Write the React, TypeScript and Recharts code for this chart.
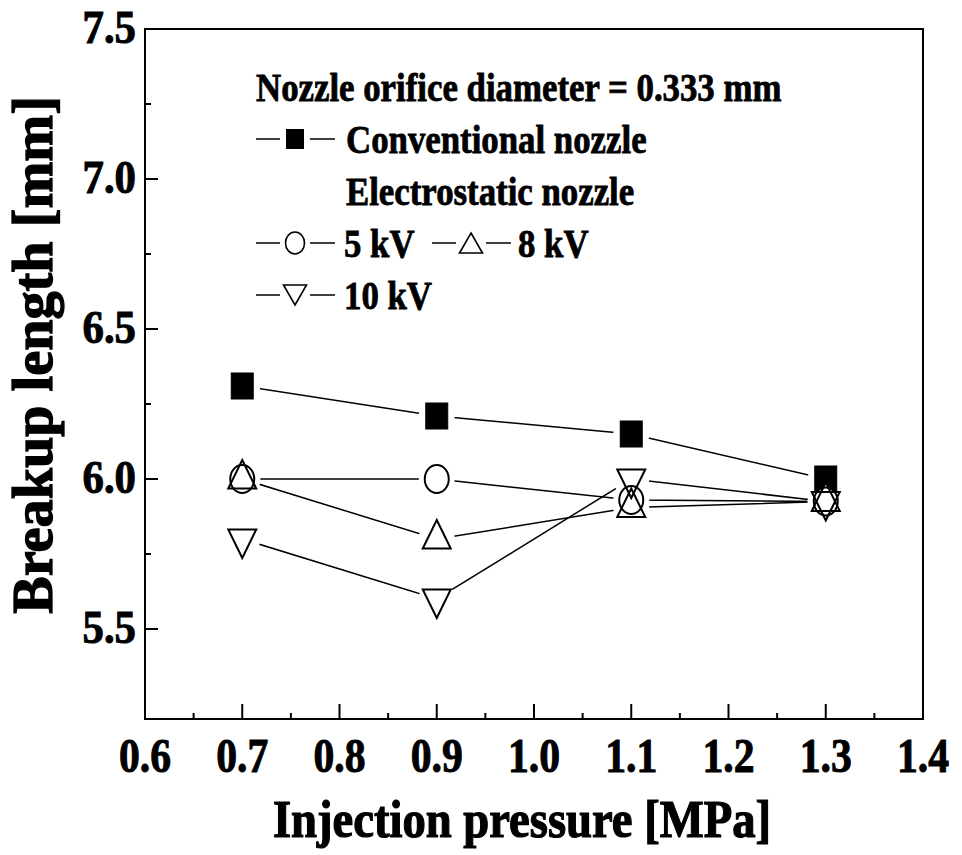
import React from 'react';
import { ComposedChart, Line, XAxis, YAxis, ReferenceArea } from 'recharts';

const pressures = [0.7, 0.9, 1.1, 1.3];
const conventional = [6.31, 6.21, 6.15, 6.0];
const kv5 = [6.0, 6.0, 5.93, 5.925];
const kv8 = [6.0, 5.8, 5.905, 5.925];
const kv10 = [5.8, 5.6, 6.0, 5.925];

const xMajorTicks = [0.6, 0.7, 0.8, 0.9, 1.0, 1.1, 1.2, 1.3, 1.4];
const xMinorTicks = [0.65, 0.75, 0.85, 0.95, 1.05, 1.15, 1.25, 1.35];
const yMajorTicks = [5.5, 6.0, 6.5, 7.0, 7.5];
const yMinorTicks = [5.75, 6.25, 6.75, 7.25];

const legendTitle = 'Nozzle orifice diameter = 0.333 mm';
const legendLabels = ['Conventional nozzle', 'Electrostatic nozzle', '5 kV', '8 kV', '10 kV'];

const xTitle = 'Injection pressure [MPa]';
const yTitle = 'Breakup length [mm]';

const FONT = '"Liberation Serif", "Times New Roman", serif';

type Kind = 'square' | 'circle' | 'up' | 'down';

const toPoints = (vals: number[]) => pressures.map((x, i) => ({ x, y: vals[i] }));

const seriesList: { name: string; kind: Kind; data: { x: number; y: number }[] }[] = [
  { name: 'conv', kind: 'square', data: toPoints(conventional) },
  { name: 'kv5', kind: 'circle', data: toPoints(kv5) },
  { name: 'kv8', kind: 'up', data: toPoints(kv8) },
  { name: 'kv10', kind: 'down', data: toPoints(kv10) },
];

const isIn = (arr: number[], v: number) => arr.some((a) => Math.abs(a - v) < 1e-6);

function SText({ x, y, sx = 0.87, size = 40, anchor = 'start', rotate = 0, weight = 0.8, spacing = 0, children }: any) {
  const t = `translate(${x},${y})${rotate ? ` rotate(${rotate})` : ''} scale(${sx},1)`;
  return (
    <text
      transform={t}
      x={0}
      y={0}
      textAnchor={anchor}
      fontFamily={FONT}
      fontWeight="bold"
      fontSize={size}
      fill="#000"
      stroke="#000"
      strokeWidth={weight}
      letterSpacing={spacing}
    >
      {children}
    </text>
  );
}

function Shape({ kind, cx, cy, mode, small }: { kind: Kind; cx: number; cy: number; mode: string; small?: boolean }) {
  if (mode === 'mask') {
    return small ? (
      <rect x={cx - 15} y={cy - 14} width={30} height={28} fill="#fff" />
    ) : (
      <ellipse cx={cx} cy={cy} rx={18} ry={19} fill="#fff" />
    );
  }
  let fill = 'none';
  let stroke = '#000';
  if (mode === 'solid') fill = '#000';
  if (mode === 'fill') {
    fill = '#fff';
    stroke = 'none';
  }
  const sw = small ? 1.6 : 2;
  if (kind === 'square') {
    const w = small ? 17 : 22;
    const h = small ? 19 : 26;
    return <rect x={cx - w / 2} y={cy - h / 2} width={w} height={h} fill={fill} stroke={stroke} strokeWidth={1} />;
  }
  if (kind === 'circle') {
    const rx = small ? 9.5 : 12;
    const ry = small ? 11 : 14;
    return <ellipse cx={cx} cy={cy} rx={rx} ry={ry} fill={fill} stroke={stroke} strokeWidth={sw} />;
  }
  const hw = small ? 11.5 : 14;
  const h = small ? 20 : 28.5;
  const topOff = small ? h / 2 : (2 * h) / 3;
  const botOff = small ? h / 2 : h / 3;
  let pts: string;
  if (kind === 'up') {
    pts = `${cx},${cy - topOff} ${cx + hw},${cy + botOff} ${cx - hw},${cy + botOff}`;
  } else {
    pts = `${cx},${cy + topOff} ${cx + hw},${cy - botOff} ${cx - hw},${cy - botOff}`;
  }
  return <polygon points={pts} fill={fill} stroke={stroke} strokeWidth={sw} strokeLinejoin="miter" />;
}

const makeDot = (kind: Kind, mode: string) => (props: any) => {
  const { cx, cy, index } = props;
  if (cx == null || cy == null) return <g key={`${kind}-${mode}-${index}`} />;
  return <Shape key={`${kind}-${mode}-${index}`} kind={kind} mode={mode} cx={cx} cy={cy} />;
};

function XTick(props: any) {
  const { x, y, payload } = props;
  const v = payload.value;
  const major = isIn(xMajorTicks, v);
  return (
    <g>
      <line x1={x} y1={y} x2={x} y2={y - (major ? 15 : 6)} stroke="#000" strokeWidth={2} />
      {major && (
        <SText x={x} y={y + 53} size={49} sx={0.85} anchor="middle" weight={1}>
          {v.toFixed(1)}
        </SText>
      )}
    </g>
  );
}

function YTick(props: any) {
  const { x, y, payload } = props;
  const v = payload.value;
  const major = isIn(yMajorTicks, v);
  return (
    <g>
      <line x1={x} y1={y} x2={x + (major ? 13 : 6)} y2={y} stroke="#000" strokeWidth={2} />
      {major && (
        <SText x={x - 9} y={y + 14} size={46} sx={0.93} anchor="end" weight={1}>
          {v.toFixed(1)}
        </SText>
      )}
    </g>
  );
}

function LegendSym({ kind, x, y }: { kind: Kind; x: number; y: number }) {
  const cx = x + 39;
  return (
    <g>
      <line x1={x} y1={y} x2={x + 79} y2={y} stroke="#000" strokeWidth={1.3} />
      <Shape kind={kind} cx={cx} cy={y} mode="mask" small />
      <Shape kind={kind} cx={cx} cy={y} mode={kind === 'square' ? 'solid' : 'outline'} small />
    </g>
  );
}

export default function App() {
  const xTicks = [...xMajorTicks, ...xMinorTicks].sort((a, b) => a - b);
  const yTicks = [...yMajorTicks, ...yMinorTicks].sort((a, b) => a - b);
  const hollow = seriesList.filter((s) => s.kind !== 'square');
  const conv = seriesList[0];
  return (
    <div style={{ position: 'absolute', left: 0, top: 0, width: 962, height: 855, background: '#fff' }}>
      <ComposedChart width={962} height={855} margin={{ top: 29, right: 39, bottom: 0, left: 0 }}>
        <XAxis
          type="number"
          dataKey="x"
          domain={[0.6, 1.4]}
          ticks={xTicks}
          interval={0}
          height={136}
          tickSize={0}
          tickMargin={0}
          tickLine={false}
          axisLine={{ stroke: '#000', strokeWidth: 2 }}
          tick={<XTick />}
          allowDataOverflow
        />
        <YAxis
          type="number"
          domain={[5.2, 7.5]}
          ticks={yTicks}
          interval={0}
          width={145}
          tickSize={0}
          tickMargin={0}
          tickLine={false}
          axisLine={{ stroke: '#000', strokeWidth: 2 }}
          tick={<YTick />}
          allowDataOverflow
        />
        <ReferenceArea x1={0.6} x2={1.4} y1={5.2} y2={7.5} fill="none" stroke="#000" strokeWidth={2} fillOpacity={0} />
        {seriesList.map((s) => (
          <Line
            key={`line-${s.name}`}
            data={s.data}
            dataKey="y"
            type="linear"
            stroke="#000"
            strokeWidth={1.5}
            dot={false}
            activeDot={false}
            isAnimationActive={false}
            legendType="none"
          />
        ))}
        {seriesList.map((s) => (
          <Line
            key={`mask-${s.name}`}
            data={s.data}
            dataKey="y"
            stroke="none"
            dot={makeDot(s.kind, 'mask')}
            activeDot={false}
            isAnimationActive={false}
            legendType="none"
          />
        ))}
        <Line
          key="solid-conv"
          data={conv.data}
          dataKey="y"
          stroke="none"
          dot={makeDot(conv.kind, 'solid')}
          activeDot={false}
          isAnimationActive={false}
          legendType="none"
        />
        {hollow.map((s) => (
          <Line
            key={`fill-${s.name}`}
            data={s.data}
            dataKey="y"
            stroke="none"
            dot={makeDot(s.kind, 'fill')}
            activeDot={false}
            isAnimationActive={false}
            legendType="none"
          />
        ))}
        {hollow.map((s) => (
          <Line
            key={`outline-${s.name}`}
            data={s.data}
            dataKey="y"
            stroke="none"
            dot={makeDot(s.kind, 'outline')}
            activeDot={false}
            isAnimationActive={false}
            legendType="none"
          />
        ))}
      </ComposedChart>
      <svg width={962} height={855} style={{ position: 'absolute', left: 0, top: 0, pointerEvents: 'none' }}>
        <SText x={522} y={837} size={53} sx={0.88} anchor="middle" weight={1.2}>
          {xTitle}
        </SText>
        <SText x={52} y={355} size={58} sx={0.97} anchor="middle" rotate={-90} weight={1.3}>
          {yTitle}
        </SText>
        <SText x={256} y={101}>{legendTitle}</SText>
        <LegendSym kind="square" x={256} y={139} />
        <SText x={346} y={153}>{legendLabels[0]}</SText>
        <SText x={346} y={205}>{legendLabels[1]}</SText>
        <LegendSym kind="circle" x={256} y={243} />
        <SText x={344} y={257}>{legendLabels[2]}</SText>
        <LegendSym kind="up" x={432} y={243} />
        <SText x={518} y={257}>{legendLabels[3]}</SText>
        <LegendSym kind="down" x={256} y={295} />
        <SText x={344} y={309}>{legendLabels[4]}</SText>
      </svg>
    </div>
  );
}
